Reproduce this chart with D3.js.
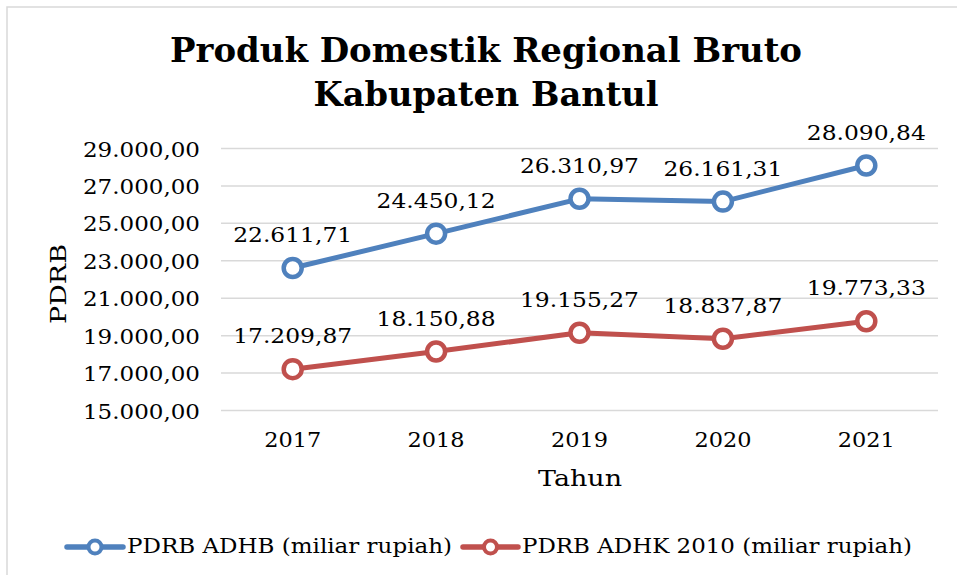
<!DOCTYPE html>
<html>
<head>
<meta charset="utf-8">
<script src="https://cdn.jsdelivr.net/npm/d3@7"></script>
<style>
  html, body { margin: 0; padding: 0; background: #fff; }
  text { font-family: "DejaVu Serif", serif; fill: #000; }
</style>
</head>
<body>
<svg id="chart" width="957" height="575"></svg>
<script>
const years = ["2017", "2018", "2019", "2020", "2021"];
const adhb = [22611.71, 24450.12, 26310.97, 26161.31, 28090.84];
const adhk = [17209.87, 18150.88, 19155.27, 18837.87, 19773.33];
const yTicks = [15000, 17000, 19000, 21000, 23000, 25000, 27000, 29000];
const seriesNames = ["PDRB ADHB (miliar rupiah)", "PDRB ADHK 2010 (miliar rupiah)"];
const titleLines = ["Produk Domestik Regional Bruto", "Kabupaten Bantul"];
const colors = ["#4F81BD", "#C0504D"];

const svg = d3.select("#chart");
const fmt = v => {
  const s = v.toFixed(2).split(".");
  return s[0].replace(/\B(?=(\d{3})+(?!\d))/g, ".") + "," + s[1];
};

// outer chart border
svg.append("rect").attr("x", 7).attr("y", 7).attr("width", 970).attr("height", 600)
  .attr("fill", "none").attr("stroke", "#d9d9d9").attr("stroke-width", 1.5);

const x = d3.scaleBand().domain(years).range([221, 938]);
const y = d3.scaleLinear().domain([15000, 29000]).range([410.5, 148.5]);

// gridlines
svg.append("g").selectAll("line").data(yTicks).join("line")
  .attr("x1", 221).attr("x2", 938)
  .attr("y1", d => y(d)).attr("y2", d => y(d))
  .attr("stroke", "#d9d9d9").attr("stroke-width", 1.5);

// y axis labels
const yAxis = svg.append("g").attr("transform", "translate(200,0)")
  .call(d3.axisLeft(y).tickValues(yTicks).tickFormat(fmt).tickSize(0).tickPadding(0));
yAxis.select(".domain").remove();
yAxis.selectAll("text")
  .attr("dy", "0.36em")
  .style("font-family", "DejaVu Serif").style("font-size", "21px").attr("fill", "#000")
  .attr("textLength", 117).attr("lengthAdjust", "spacingAndGlyphs");

// x axis labels
const xAxis = svg.append("g").attr("transform", "translate(0,447)")
  .call(d3.axisBottom(x).tickSize(0).tickPadding(0));
xAxis.select(".domain").remove();
xAxis.selectAll("text")
  .attr("dy", 0).attr("y", 0)
  .style("font-family", "DejaVu Serif").style("font-size", "21px").attr("fill", "#000")
  .attr("textLength", 57).attr("lengthAdjust", "spacingAndGlyphs");

// axis titles
svg.append("text").attr("x", 580).attr("y", 486).attr("text-anchor", "middle")
  .style("font-size", "22px").attr("textLength", 84).attr("lengthAdjust", "spacingAndGlyphs")
  .text("Tahun");
svg.append("text").attr("transform", "translate(66,284) rotate(-90)").attr("text-anchor", "middle")
  .style("font-size", "22px").attr("textLength", 80).attr("lengthAdjust", "spacingAndGlyphs")
  .text("PDRB");

// title
const titleWidths = [632, 345];
titleLines.forEach((t, i) => {
  svg.append("text").attr("x", 486).attr("y", 62 + i * 44).attr("text-anchor", "middle")
    .style("font-size", "33px").style("font-weight", "bold")
    .attr("textLength", titleWidths[i]).attr("lengthAdjust", "spacingAndGlyphs")
    .text(t);
});

// series
const cx = d => x(d) + x.bandwidth() / 2;
[adhb, adhk].forEach((vals, si) => {
  const pts = years.map((yr, i) => ({ yr, v: vals[i] }));
  const line = d3.line().x(d => cx(d.yr)).y(d => y(d.v));
  svg.append("path").datum(pts).attr("d", line)
    .attr("fill", "none").attr("stroke", colors[si]).attr("stroke-width", 5)
    .attr("stroke-linejoin", "round").attr("stroke-linecap", "round");
  svg.append("g").selectAll("circle").data(pts).join("circle")
    .attr("cx", d => cx(d.yr)).attr("cy", d => y(d.v)).attr("r", 9)
    .attr("fill", "#fff").attr("stroke", colors[si]).attr("stroke-width", 4.5);
  svg.append("g").selectAll("text").data(pts).join("text")
    .attr("x", d => cx(d.yr)).attr("y", d => y(d.v) - 26).attr("text-anchor", "middle")
    .style("font-size", "21px")
    .attr("textLength", 119).attr("lengthAdjust", "spacingAndGlyphs")
    .text(d => fmt(d.v));
});

// legend
const legendItems = [
  { x0: 67, x1: 123, tx: 127, tw: 325 },
  { x0: 463, x1: 518, tx: 522, tw: 390 }
];
legendItems.forEach((it, i) => {
  const g = svg.append("g");
  g.append("line").attr("x1", it.x0).attr("x2", it.x1).attr("y1", 547).attr("y2", 547)
    .attr("stroke", colors[i]).attr("stroke-width", 5.5).attr("stroke-linecap", "round");
  g.append("circle").attr("cx", (it.x0 + it.x1) / 2).attr("cy", 547).attr("r", 6.5)
    .attr("fill", "#fff").attr("stroke", colors[i]).attr("stroke-width", 4);
  g.append("text").attr("x", it.tx).attr("y", 553)
    .style("font-size", "21px")
    .attr("textLength", it.tw).attr("lengthAdjust", "spacingAndGlyphs")
    .text(seriesNames[i]);
});
</script>
</body>
</html>
